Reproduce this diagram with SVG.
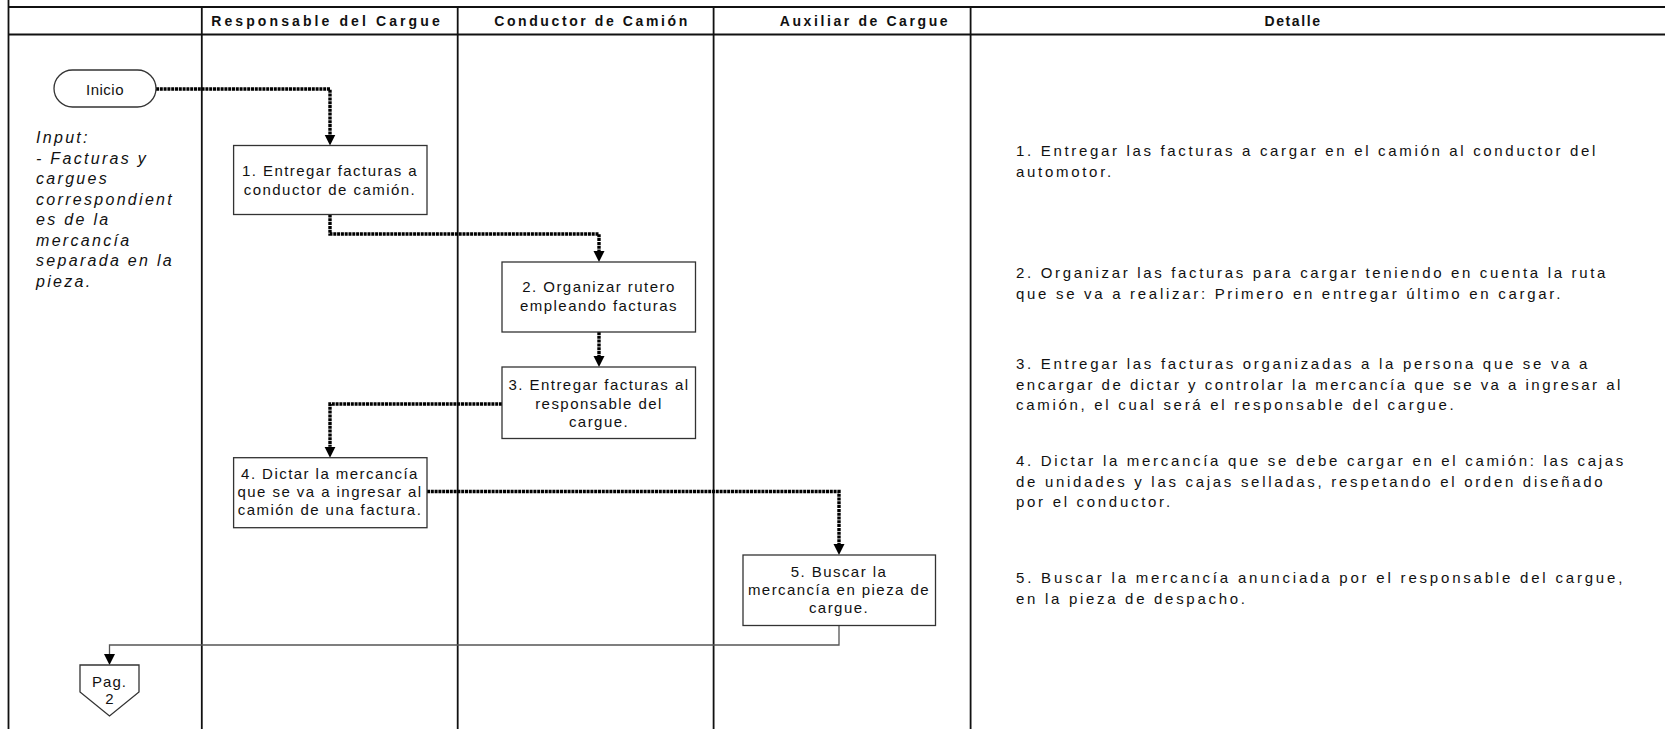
<svg xmlns="http://www.w3.org/2000/svg" width="1665" height="729" viewBox="0 0 1665 729">
  <style>
    .grid { stroke: #111; stroke-width: 1.8; fill: none; }
    .hdr { font: bold 14px "Liberation Sans", Arial, sans-serif; letter-spacing: 2.6px; text-anchor: middle; fill: #111; }
    .box { fill: #fff; stroke: #333; stroke-width: 1.3; }
    .lbl { font: 15px "Liberation Sans", Arial, sans-serif; letter-spacing: 1.45px; text-anchor: middle; fill: #111; }
    .inp { font: italic 16px "Liberation Sans", Arial, sans-serif; letter-spacing: 2.3px; fill: #111; }
    .det { font: 15px "Liberation Sans", Arial, sans-serif; letter-spacing: 2.7px; fill: #111; }
    .flow { fill: none; stroke: #000; stroke-width: 3.4; stroke-dasharray: 3 0.8; }
    .link { fill: none; stroke: #555; stroke-width: 1.3; }
  </style>
  <defs>
    <marker id="arrow" viewBox="0 0 10 10" refX="0" refY="5" markerWidth="11" markerHeight="12" markerUnits="userSpaceOnUse" orient="auto">
      <path d="M0,0 L10,5 L0,10 z" fill="#000"/>
    </marker>
  </defs>

  <rect width="1665" height="729" fill="#fff"/>

  <!-- table frame and swimlane dividers -->
  <g id="table">
    <line class="grid" x1="8.5" y1="0" x2="8.5" y2="729"/>
    <line class="grid" x1="8.5" y1="7" x2="1665" y2="7"/>
    <line class="grid" x1="8.5" y1="34.5" x2="1665" y2="34.5"/>
    <line class="grid" x1="201.8" y1="7" x2="201.8" y2="729"/>
    <line class="grid" x1="457.7" y1="7" x2="457.7" y2="729"/>
    <line class="grid" x1="713.6" y1="7" x2="713.6" y2="729"/>
    <line class="grid" x1="970.6" y1="7" x2="970.6" y2="729"/>
    <text class="hdr" x="327" y="26" style="letter-spacing:3.1px">Responsable del Cargue</text>
    <text class="hdr" x="592" y="26">Conductor de Camión</text>
    <text class="hdr" x="865" y="26">Auxiliar de Cargue</text>
    <text class="hdr" x="1293" y="26" style="letter-spacing:1.6px">Detalle</text>
  </g>

  <!-- input note -->
  <g id="input-note">
    <text class="inp" x="36" y="143">Input:</text>
    <text class="inp" x="36" y="163.5">- Facturas y</text>
    <text class="inp" x="36" y="184">cargues</text>
    <text class="inp" x="36" y="204.5">correspondient</text>
    <text class="inp" x="36" y="225">es de la</text>
    <text class="inp" x="36" y="245.5">mercancía</text>
    <text class="inp" x="36" y="266">separada en la</text>
    <text class="inp" x="36" y="286.5">pieza.</text>
  </g>

  <!-- connectors -->
  <g id="connectors">
    <path class="flow" d="M156,89 H330 V134.5" marker-end="url(#arrow)"/>
    <path class="flow" d="M330,214.5 V234 H599 V251" marker-end="url(#arrow)"/>
    <path class="flow" d="M599,332 V356" marker-end="url(#arrow)"/>
    <path class="flow" d="M502,404 H330 V446.7" marker-end="url(#arrow)"/>
    <path class="flow" d="M427,491.5 H839 V544" marker-end="url(#arrow)"/>
    <path class="link" d="M839,625.5 V645 H109.5 V654" marker-end="url(#arrow)"/>
  </g>

  <!-- flow nodes -->
  <g id="inicio">
    <rect class="box" x="54" y="70" width="102" height="37" rx="18.5" ry="18.5"/>
    <text class="lbl" x="105" y="95" style="letter-spacing:0.5px">Inicio</text>
  </g>

  <g id="paso1">
    <rect class="box" x="233.6" y="145.5" width="193.4" height="69"/>
    <text class="lbl" x="330" y="175.5">1. Entregar facturas a</text>
    <text class="lbl" x="330" y="194.5">conductor de camión.</text>
  </g>

  <g id="paso2">
    <rect class="box" x="502" y="262" width="193.5" height="70"/>
    <text class="lbl" x="599" y="292">2. Organizar rutero</text>
    <text class="lbl" x="599" y="311">empleando facturas</text>
  </g>

  <g id="paso3">
    <rect class="box" x="502" y="367" width="193.5" height="71.5"/>
    <text class="lbl" x="599" y="390">3. Entregar facturas al</text>
    <text class="lbl" x="599" y="408.5">responsable del</text>
    <text class="lbl" x="599" y="426.5">cargue.</text>
  </g>

  <g id="paso4">
    <rect class="box" x="233.6" y="457.7" width="193.4" height="70"/>
    <text class="lbl" x="330" y="479">4. Dictar la mercancía</text>
    <text class="lbl" x="330" y="497">que se va a ingresar al</text>
    <text class="lbl" x="330" y="515">camión de una factura.</text>
  </g>

  <g id="paso5">
    <rect class="box" x="743" y="555" width="192.5" height="70.5"/>
    <text class="lbl" x="839" y="577">5. Buscar la</text>
    <text class="lbl" x="839" y="595">mercancía en pieza de</text>
    <text class="lbl" x="839" y="612.5">cargue.</text>
  </g>

  <g id="pag2">
    <polygon class="box" points="80,665 139,665 139,692 109.5,716 80,692"/>
    <text class="lbl" x="109.5" y="687" style="letter-spacing:1px">Pag.</text>
    <text class="lbl" x="109.5" y="704" style="letter-spacing:0">2</text>
  </g>

  <!-- detail column -->
  <g id="detalle">
    <text class="det" x="1016" y="156" textLength="582" lengthAdjust="spacing">1. Entregar las facturas a cargar en el camión al conductor del</text>
    <text class="det" x="1016" y="176.5">automotor.</text>
    <text class="det" x="1016" y="278" textLength="592" lengthAdjust="spacing">2. Organizar las facturas para cargar teniendo en cuenta la ruta</text>
    <text class="det" x="1016" y="298.5">que se va a realizar: Primero en entregar último en cargar.</text>
    <text class="det" x="1016" y="369">3. Entregar las facturas organizadas a la persona que se va a</text>
    <text class="det" x="1016" y="389.5" textLength="607" lengthAdjust="spacing">encargar de dictar y controlar la mercancía que se va a ingresar al</text>
    <text class="det" x="1016" y="410">camión, el cual será el responsable del cargue.</text>
    <text class="det" x="1016" y="466" textLength="610" lengthAdjust="spacing">4. Dictar la mercancía que se debe cargar en el camión: las cajas</text>
    <text class="det" x="1016" y="486.5">de unidades y las cajas selladas, respetando el orden diseñado</text>
    <text class="det" x="1016" y="507">por el conductor.</text>
    <text class="det" x="1016" y="583" textLength="609" lengthAdjust="spacing">5. Buscar la mercancía anunciada por el responsable del cargue,</text>
    <text class="det" x="1016" y="603.5">en la pieza de despacho.</text>
  </g>
</svg>
